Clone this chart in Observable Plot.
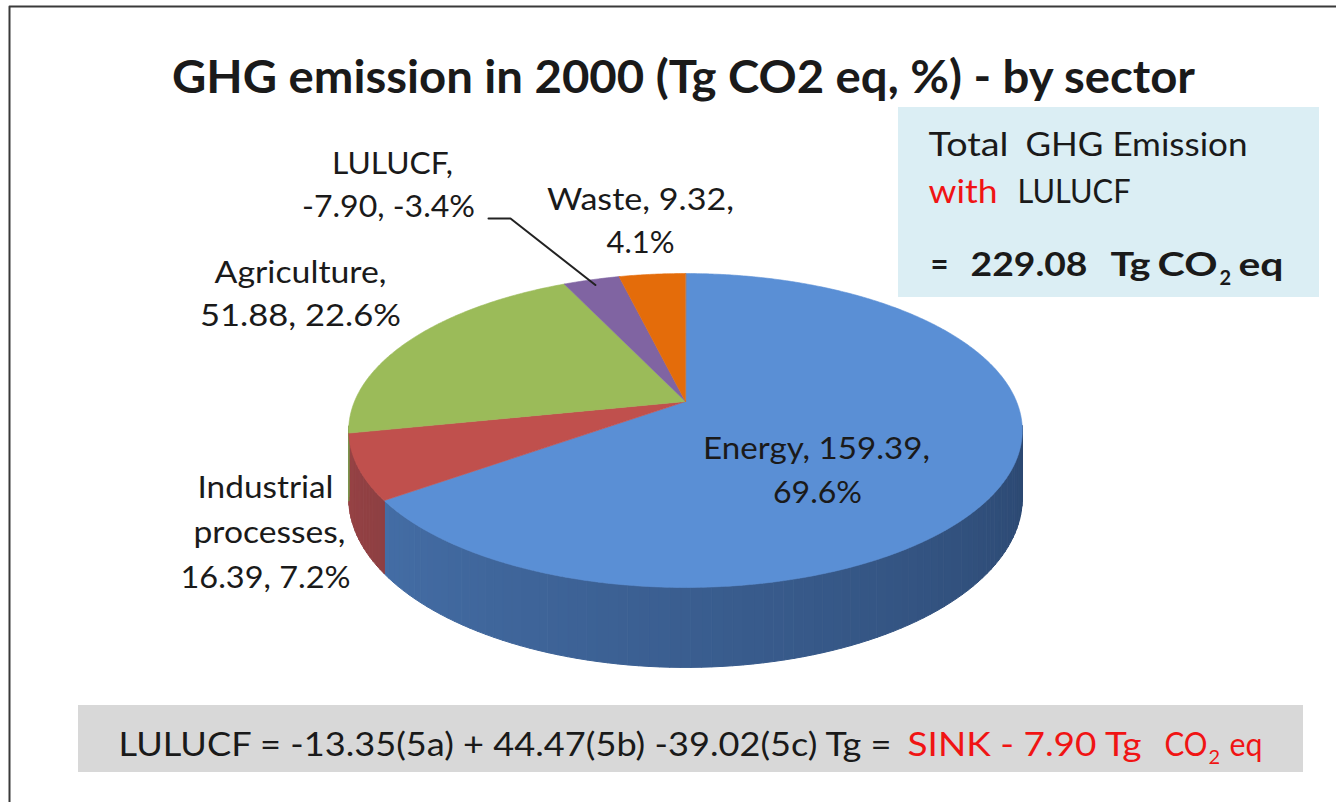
<!DOCTYPE html>
<html>
<head>
<meta charset="utf-8">
<script src="https://cdn.jsdelivr.net/npm/d3@7"></script>
<script src="https://cdn.jsdelivr.net/npm/@observablehq/plot@0.6"></script>
<style>
  html, body { margin: 0; padding: 0; background: #fff; overflow: hidden; }
  #chart { width: 1336px; height: 802px; }
</style>
</head>
<body>
<div id="chart"></div>
<script>
// ---------------- DATA ----------------
const sectors = ["Energy", "Industrial processes", "Agriculture", "LULUCF", "Waste"];
const emissions = [159.39, 16.39, 51.88, -7.90, 9.32];      // Tg CO2 eq
const shares = [69.6, 7.2, 22.6, -3.4, 4.1];                 // %
const sectorColors = ["#5a8fd5", "#c0504d", "#9bbb59", "#8064a2", "#e46c0a"];
const lulucfParts = [-13.35, 44.47, -39.02];
const lulucfCodes = ["5a", "5b", "5c"];
const titleText = "GHG emission in 2000 (Tg CO2 eq, %) - by sector";

// ---------------- LAYOUT ----------------
const W = 1336, H = 802;
const pie = {cx: 685, cy: 401, A: 331, B: 151.6, k: 0.1847, D: 65.2};
const FONT = "Lato, 'Open Sans', sans-serif";
const INK = "#1a1a1a";
const RED = "#f01414";

// perspective projection of a point on the tilted disc
function proj(theta, r = 1, drop = 0) {
  const u = r * Math.sin(theta), v = r * Math.cos(theta);
  const w = 1 + pie.k * v;
  return [pie.cx + pie.A * u / w, pie.cy - pie.B * v / w + drop * pie.D / w];
}

const arcs = d3.pie().value(d => Math.abs(d)).sort(null)(emissions);

// top faces
const topPts = [];
arcs.forEach((a, i) => {
  const id = "top" + i, c = sectorColors[i];
  topPts.push({id, c, x: pie.cx, y: pie.cy});
  const n = Math.max(2, Math.ceil((a.endAngle - a.startAngle) / (Math.PI / 360)));
  for (let j = 0; j <= n; j++) {
    const t = a.startAngle + (a.endAngle - a.startAngle) * j / n;
    const [x, y] = proj(t);
    topPts.push({id, c, x, y});
  }
});

// side walls (front visible part), shaded by angle
const tMin = Math.acos(-pie.k), tMax = 2 * Math.PI - tMin;
const wallPts = [];
arcs.forEach((a, i) => {
  const s = Math.max(a.startAngle, tMin - 0.03), e = Math.min(a.endAngle, tMax + 0.03);
  if (e <= s) return;
  const n = Math.max(1, Math.ceil((e - s) / (Math.PI / 120)));
  for (let j = 0; j < n; j++) {
    const t1 = s + (e - s) * j / n, t2 = s + (e - s) * (j + 1) / n;
    const mid = (t1 + t2) / 2;
    const tt = Math.max(0, Math.min(1, (tMax - mid) / (tMax - tMin)));
    const c = d3.interpolateRgb(sectorColors[i], "#0a1428")(0.22 + 0.36 * tt);
    const id = `wall${i}_${j}`;
    for (const [t, d] of [[t1, 0], [t2, 0], [t2, 1], [t1, 1]]) {
      const [x, y] = proj(t, 1, d);
      wallPts.push({id, c, x, y});
    }
  }
});

// leader line for LULUCF label
const lu = arcs[3];
const [lx, ly] = proj((lu.startAngle + lu.endAngle) / 2, 0.95);
const leader = [{x: 488, y: 218}, {x: 510, y: 218}, {x: lx, y: ly}];

// data labels
const fmtV = v => v.toFixed(2);
const fmtS = s => s.toFixed(1) + "%";
const labelLayout = [
  {wrap: "nv|s", pos: [[816, 458, 227], [817, 502, 89]]},
  {wrap: "words|vs", pos: [[265, 497, 136], [269, 542, 152], [265, 587, 170]]},
  {wrap: "n|vs", pos: [[300, 282, 172], [300, 325, 201]]},
  {wrap: "n|vs", pos: [[392, 173, 121], [388, 216, 173]]},
  {wrap: "nv|s", pos: [[640, 209, 187], [640, 252, 68]]}
];
const labelData = [];
sectors.forEach((name, i) => {
  const v = fmtV(emissions[i]), s = fmtS(shares[i]);
  const L = labelLayout[i];
  let lines;
  if (L.wrap === "nv|s") lines = [`${name}, ${v},`, s];
  else if (L.wrap === "n|vs") lines = [`${name},`, `${v}, ${s}`];
  else { const w = name.split(" "); lines = [w[0], w[1] + ",", `${v}, ${s}`]; }
  lines.forEach((text, j) => labelData.push({text, x: L.pos[j][0], y: L.pos[j][1], w: L.pos[j][2]}));
});

// title
const titleData = [{text: titleText, x: 683, y: 92, w: 1023}];

// total box
const total = d3.sum(emissions);
const boxRegular = [
  {text: "Total", x: 928, y: 155, w: 80, c: INK},
  {text: "GHG Emission", x: 1025, y: 155, w: 222, c: INK},
  {text: "with", x: 928, y: 202, w: 69, c: RED},
  {text: sectors[3], x: 1017, y: 202, w: 113, c: INK}
];
const boxBold = [
  {text: "=", x: 930, y: 275, w: 18},
  {text: total.toFixed(2), x: 970, y: 275, w: 117},
  {text: "Tg", x: 1110, y: 275, w: 40},
  {text: "CO", x: 1157, y: 275, w: 60},
  {text: "eq", x: 1238, y: 275, w: 45}
];
const boxSub = [{text: "2", x: 1219, y: 284, c: INK}];

// LULUCF equation line
let eq = `${sectors[3]} = `;
lulucfParts.forEach((p, i) => {
  const s = `${Math.abs(p).toFixed(2)}(${lulucfCodes[i]})`;
  eq += i === 0 ? (p < 0 ? "-" : "") + s : (p < 0 ? " -" : " + ") + s;
});
eq += " Tg =";
const bottomRegular = [
  {text: eq, x: 118, y: 755, w: 773, c: INK},
  {text: `SINK - ${Math.abs(emissions[3]).toFixed(2)} Tg`, x: 907, y: 755, w: 234, c: RED},
  {text: "CO", x: 1164, y: 755, w: 43, c: RED},
  {text: "eq", x: 1229, y: 755, w: 33, c: RED}
];
const bottomSub = [{text: "2", x: 1208, y: 763, c: RED}];

// ---------------- PLOT ----------------
const textSets = [titleData, labelData, boxRegular, boxBold, boxSub, bottomRegular, bottomSub];

const chart = Plot.plot({
  width: W, height: H, margin: 0,
  x: {domain: [0, W], axis: null},
  y: {domain: [0, H], range: [0, H], axis: null},
  color: {type: "identity"},
  style: {background: "#fff"},
  marks: [
    // frame lines
    Plot.line([{x: 9, y: H}, {x: 9, y: 6}, {x: W, y: 6}], {x: "x", y: "y", stroke: "#3a3a3a", strokeWidth: 2}),
    // boxes
    Plot.rect([{x1: 898, x2: 1319, y1: 107, y2: 297}], {x1: "x1", x2: "x2", y1: "y1", y2: "y2", fill: "#dbeef4"}),
    Plot.rect([{x1: 78, x2: 1303, y1: 705, y2: 772}], {x1: "x1", x2: "x2", y1: "y1", y2: "y2", fill: "#d8d8d8"}),
    // pie walls & tops
    Plot.line(wallPts, {x: "x", y: "y", z: "id", fill: "c", stroke: "c", strokeWidth: 1, curve: "linear-closed"}),
    Plot.line(topPts, {x: "x", y: "y", z: "id", fill: "c", stroke: "c", strokeWidth: 0.6, curve: "linear-closed"}),
    // leader
    Plot.line(leader, {x: "x", y: "y", stroke: "#222", strokeWidth: 2}),
    // texts
    Plot.text(titleData, {x: "x", y: "y", text: "text", fontFamily: FONT, fontSize: 46, fontWeight: 700, fill: INK, textAnchor: "middle", lineAnchor: "bottom"}),
    Plot.text(labelData, {x: "x", y: "y", text: "text", fontFamily: FONT, fontSize: 31, fill: INK, textAnchor: "middle", lineAnchor: "bottom"}),
    Plot.text(boxRegular, {x: "x", y: "y", text: "text", fill: "c", fontFamily: FONT, fontSize: 32, textAnchor: "start", lineAnchor: "bottom"}),
    Plot.text(boxBold, {x: "x", y: "y", text: "text", fill: INK, fontFamily: FONT, fontSize: 32, fontWeight: 700, textAnchor: "start", lineAnchor: "bottom"}),
    Plot.text(boxSub, {x: "x", y: "y", text: "text", fill: "c", fontFamily: FONT, fontSize: 20, fontWeight: 700, textAnchor: "start", lineAnchor: "bottom"}),
    Plot.text(bottomRegular, {x: "x", y: "y", text: "text", fill: "c", fontFamily: FONT, fontSize: 32, textAnchor: "start", lineAnchor: "bottom"}),
    Plot.text(bottomSub, {x: "x", y: "y", text: "text", fill: "c", fontFamily: FONT, fontSize: 20, textAnchor: "start", lineAnchor: "bottom"})
  ]
});
document.getElementById("chart").appendChild(chart);

// fit text widths to the reference
const groups = chart.querySelectorAll('g[aria-label="text"]');
textSets.forEach((set, gi) => {
  const g = groups[gi];
  if (!g) return;
  const texts = g.querySelectorAll("text");
  set.forEach((d, j) => {
    if (d.w && texts[j]) {
      texts[j].setAttribute("textLength", d.w);
      texts[j].setAttribute("lengthAdjust", "spacingAndGlyphs");
    }
  });
});
</script>
</body>
</html>
